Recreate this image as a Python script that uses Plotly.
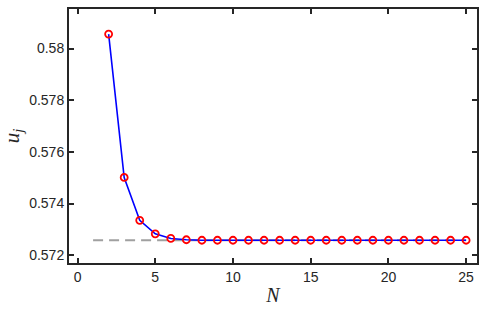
import plotly.graph_objects as go

N = list(range(2, 26))
u = [0.58056, 0.57501, 0.57335, 0.57283, 0.57265, 0.57260] + [0.57258] * 18
ref_x = [1, 25]
ref_y = [0.57258, 0.57258]
xticks = [0, 5, 10, 15, 20, 25]
yticks = [0.572, 0.574, 0.576, 0.578, 0.58]
yticklabels = ["0.572", "0.574", "0.576", "0.578", "0.58"]

fig = go.Figure()
fig.add_trace(go.Scatter(x=ref_x, y=ref_y, mode="lines",
                         line=dict(color="#a0a0a0", width=2, dash="10px,6px"),
                         showlegend=False, hoverinfo="skip"))
fig.add_trace(go.Scatter(x=N, y=u, mode="lines+markers",
                         line=dict(color="#0000ff", width=1.6),
                         marker=dict(symbol="circle-open", size=7, color="#ff0000",
                                     line=dict(width=1.8, color="#ff0000")),
                         showlegend=False))

axis_common = dict(showline=True, linecolor="#262626", linewidth=2, mirror="ticks",
                   ticks="inside", ticklen=5, tickwidth=1.5, tickcolor="#262626",
                   showgrid=False, zeroline=False,
                   tickfont=dict(family="Liberation Sans, Arial", size=14, color="#262626"))

fig.update_layout(
    width=486, height=310,
    margin=dict(l=69, r=7, t=7, b=46),
    paper_bgcolor="white", plot_bgcolor="white",
    xaxis=dict(range=[-0.55, 25.7], tickvals=xticks,
               title=dict(text="<i>N</i>", font=dict(family="Liberation Serif, Times New Roman", size=20, color="#262626"),
                          standoff=4),
               **axis_common),
    yaxis=dict(range=[0.5717, 0.58153], tickvals=yticks, ticktext=yticklabels,
               title=dict(text="<i>u<sub>j</sub></i>", font=dict(family="Liberation Serif, Times New Roman", size=21, color="#262626"),
                          standoff=6),
               **axis_common),
)

fig.write_html("out.html")
